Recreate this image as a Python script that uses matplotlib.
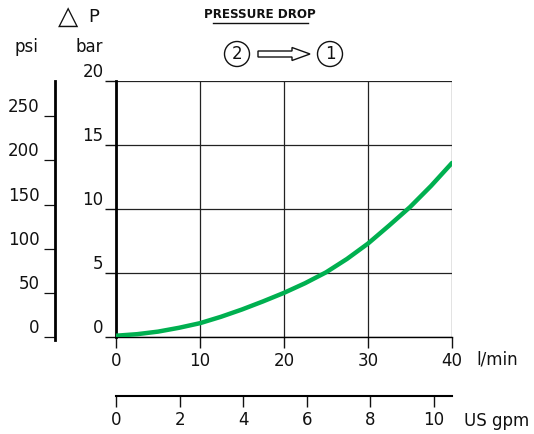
import numpy as np
import matplotlib
matplotlib.use('Agg')
import matplotlib.pyplot as plt
from matplotlib.patches import Circle, FancyArrow

# data
flow_lpm = [0, 2.5, 5, 7.5, 10, 12.5, 15, 17.5, 20, 22.5, 25, 27.5, 30, 32.5, 35, 37.5, 40]
dp_bar = [0.1, 0.22, 0.42, 0.72, 1.08, 1.58, 2.15, 2.78, 3.45, 4.2, 5.05, 6.1, 7.3,
          8.7, 10.15, 11.8, 13.6]
bar_ticks = [0, 5, 10, 15, 20]
psi_ticks = [0, 50, 100, 150, 200, 250]
lpm_ticks = [0, 10, 20, 30, 40]
gpm_ticks = [0, 2, 4, 6, 8, 10]

BAR_TO_PSI = 14.5038
LPM_PER_GPM = 3.785
GREEN = '#00B050'
TXT = '#111111'
W, H = 534, 434
FS = 12

plt.rcParams['font.family'] = ['DejaVu Sans']

fig = plt.figure(figsize=(W / 100, H / 100), dpi=100, facecolor='white')


def px_box(x0, y0, x1, y1):
    # pixel box (top-left origin) -> figure fraction rect
    return [x0 / W, 1 - y1 / H, (x1 - x0) / W, (y1 - y0) / H]


# ── main grid (bar vs l/min) ─────────────────────────────────────────────────
ax = fig.add_axes(px_box(116, 81, 452, 337))
ax.plot(flow_lpm, dp_bar, color=GREEN, lw=3.2, solid_capstyle='round', zorder=3)
ax.set_xlim(0, 40)
ax.set_ylim(0, 20)
ax.set_xticks(lpm_ticks)
ax.set_yticks(bar_ticks)
ax.grid(True, color='#222222', lw=0.9)
for s in ('top', 'right'):
    ax.spines[s].set_visible(False)
ax.spines['left'].set_linewidth(2.0)
ax.spines['bottom'].set_linewidth(1.0)
ax.tick_params(axis='both', direction='out', length=8, width=1.0,
               labelsize=FS, colors=TXT)
ax.tick_params(axis='x', pad=3)
ax.tick_params(axis='y', pad=1)
for lab in ax.get_yticklabels():
    lab.set_va('bottom')

# ── psi axis ────────────────────────────────────────────────────────────────
ax_psi = fig.add_axes(px_box(55, 81, 60, 337))
ax_psi.set_ylim(0, 20 * BAR_TO_PSI)
ax_psi.set_yticks(psi_ticks)
ax_psi.set_xticks([])
ax_psi.patch.set_visible(False)
for s in ('top', 'right', 'bottom'):
    ax_psi.spines[s].set_visible(False)
ax_psi.spines['left'].set_linewidth(2.0)
ax_psi.spines['left'].set_bounds(-3, 20 * BAR_TO_PSI)
ax_psi.tick_params(axis='y', direction='out', length=8, width=0.9,
                   labelsize=FS, colors=TXT, pad=3)
for lab in ax_psi.get_yticklabels():
    lab.set_va('bottom')

# ── US gpm axis ─────────────────────────────────────────────────────────────
ax_gpm = fig.add_axes(px_box(116, 391, 452, 396))
ax_gpm.set_xlim(0, 40 / LPM_PER_GPM)
ax_gpm.set_xticks(gpm_ticks)
ax_gpm.set_yticks([])
ax_gpm.patch.set_visible(False)
for s in ('top', 'right', 'left'):
    ax_gpm.spines[s].set_visible(False)
ax_gpm.spines['bottom'].set_linewidth(1.5)
ax_gpm.tick_params(axis='x', direction='out', length=8, width=1.0,
                   labelsize=FS, colors=TXT, pad=3)

# ── overlay for labels and the flow symbol ──────────────────────────────────
ov = fig.add_axes([0, 0, 1, 1])
ov.set_xlim(0, W)
ov.set_ylim(H, 0)
ov.axis('off')

ov.text(497, 360, 'l/min', fontsize=FS, ha='center', va='center', color=TXT)
ov.text(497, 421, 'US gpm', fontsize=FS, ha='center', va='center', color=TXT)
ov.text(26, 47, 'psi', fontsize=FS, ha='center', va='center', color=TXT)
ov.text(89, 47, 'bar', fontsize=FS, ha='center', va='center', color=TXT)
ov.text(68, 17, '\u25b3', fontsize=19, ha='center', va='center', color=TXT)
ov.text(94, 17, 'P', fontsize=13, ha='center', va='center', color=TXT)

ov.text(260, 15, 'PRESSURE DROP', fontsize=9.5, fontweight='bold',
        fontstretch='condensed', ha='center', va='center', color=TXT)
ov.plot([213, 308], [23, 23], color=TXT, lw=1.0)

ov.add_patch(Circle((237, 54), 12.5, fill=False, lw=1.0, ec=TXT))
ov.text(237, 54, '2', fontsize=FS, ha='center', va='center', color=TXT)
ov.add_patch(Circle((330, 54), 12.5, fill=False, lw=1.0, ec=TXT))
ov.text(330, 54, '1', fontsize=FS, ha='center', va='center', color=TXT)
ov.add_patch(FancyArrow(258, 54, 52, 0, width=6, head_width=13, head_length=18,
                        length_includes_head=True, fill=False, lw=1.0, ec=TXT))

fig.savefig('out.png', dpi=100, facecolor='white')
